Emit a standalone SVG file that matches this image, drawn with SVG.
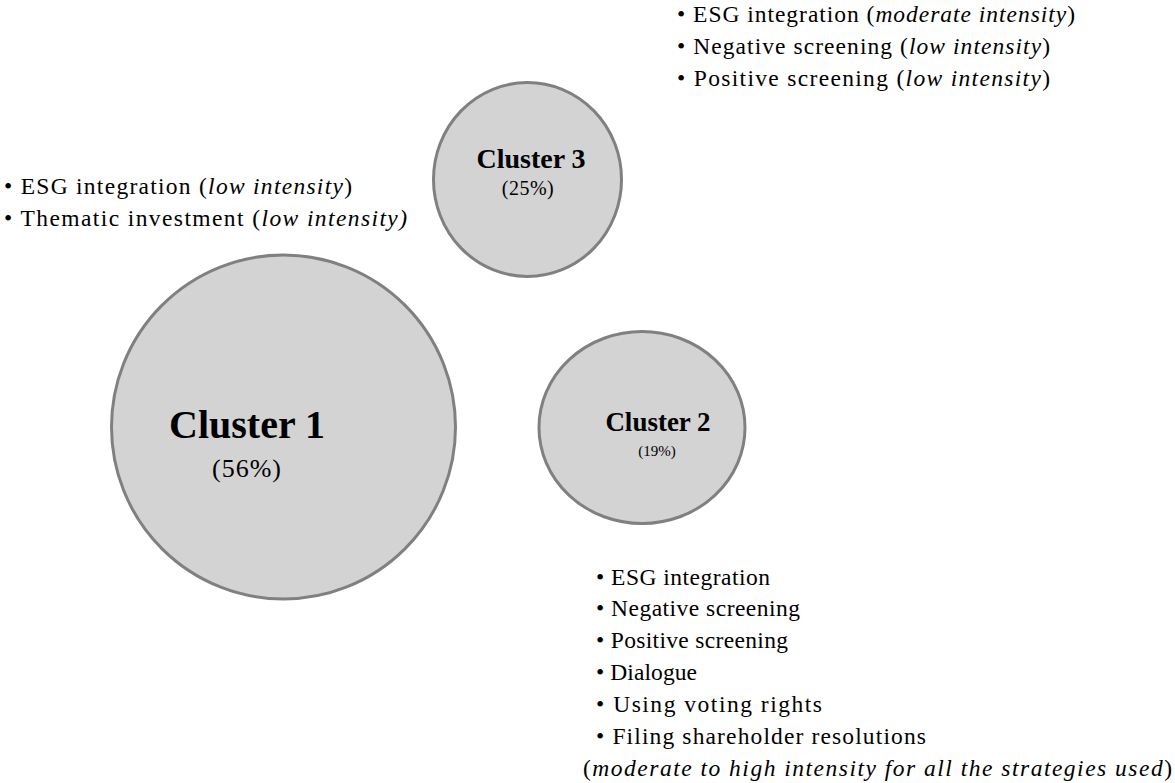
<svg xmlns="http://www.w3.org/2000/svg" width="1175" height="783" viewBox="0 0 1175 783">
<style>
.bub{fill:#d3d3d3;stroke:#808080;stroke-width:3}
.t{font-family:"Liberation Serif","Times New Roman",serif;fill:#000}
.lst{font-size:23.5px}
.ttl{font-weight:bold;text-anchor:middle}
.pct{text-anchor:middle}
.i{font-style:italic}
</style>
<rect width="1175" height="783" fill="#ffffff"/>
<g id="connectors"/>
<g id="cluster1">
<circle class="bub" cx="283.5" cy="427" r="172"/>
<text class="t ttl" x="247" y="438" font-size="40">Cluster 1</text>
<text class="t pct" x="247" y="477" font-size="26" letter-spacing="1">(56%)</text>
<text class="t lst" x="4" y="194" textLength="348" lengthAdjust="spacing">• ESG integration (<tspan class="i">low intensity</tspan>)</text>
<text class="t lst" x="4" y="226" textLength="403" lengthAdjust="spacing">• Thematic investment (<tspan class="i">low intensity)</tspan></text>
</g>
<g id="cluster3">
<ellipse class="bub" cx="527.5" cy="179.5" rx="94" ry="97"/>
<text class="t ttl" x="531" y="168" font-size="28">Cluster 3</text>
<text class="t pct" x="528" y="195" font-size="20" letter-spacing="0.5">(25%)</text>
<text class="t lst" x="677" y="22" textLength="398" lengthAdjust="spacing">• ESG integration (<tspan class="i">moderate intensity</tspan>)</text>
<text class="t lst" x="677" y="54" textLength="373" lengthAdjust="spacing">• Negative screening (<tspan class="i">low intensity</tspan>)</text>
<text class="t lst" x="677" y="86" textLength="373" lengthAdjust="spacing">• Positive screening (<tspan class="i">low intensity</tspan>)</text>
</g>
<g id="cluster2">
<ellipse class="bub" cx="642" cy="427.5" rx="103" ry="96"/>
<text class="t ttl" x="658" y="431" font-size="27">Cluster 2</text>
<text class="t pct" x="657" y="456" font-size="15">(19%)</text>
<text class="t lst" x="596" y="585" textLength="174" lengthAdjust="spacing">• ESG integration</text>
<text class="t lst" x="596" y="616" textLength="204" lengthAdjust="spacing">• Negative screening</text>
<text class="t lst" x="596" y="648" textLength="192" lengthAdjust="spacing">• Positive screening</text>
<text class="t lst" x="596" y="680" textLength="101" lengthAdjust="spacing">• Dialogue</text>
<text class="t lst" x="596" y="712" textLength="226" lengthAdjust="spacing">• Using voting rights</text>
<text class="t lst" x="596" y="744" textLength="330" lengthAdjust="spacing">• Filing shareholder resolutions</text>
<text class="t lst" x="583" y="776" textLength="589" lengthAdjust="spacing">(<tspan class="i">moderate to high intensity for all the strategies used</tspan>)</text>
</g>
</svg>
